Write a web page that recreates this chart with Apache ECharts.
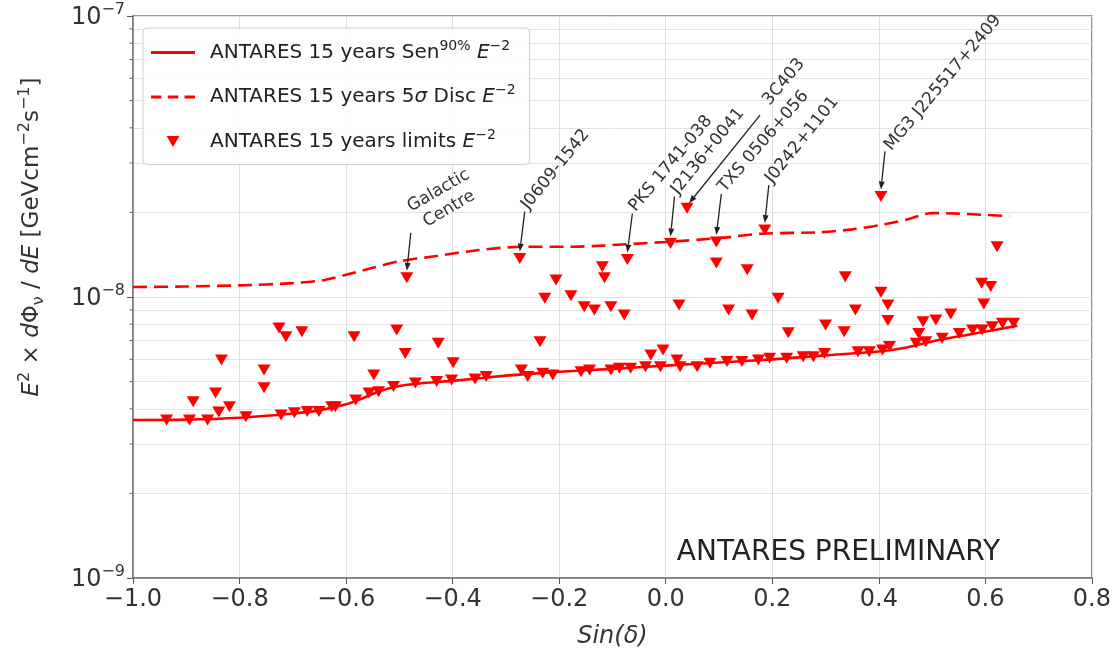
<!DOCTYPE html>
<html>
<head>
<meta charset="utf-8">
<title>ANTARES 15 years limits</title>
<script src="https://cdn.jsdelivr.net/npm/echarts@6/dist/echarts.min.js"></script>
<style>
  html, body { margin: 0; padding: 0; background: #fff; }
  #chart { width: 1114px; height: 657px; }
</style>
</head>
<body>
<div id="chart"></div>
<script>
// sensitivity curve (solid) and 5 sigma discovery curve (dashed)
var senX = [-1.0, -0.9, -0.8, -0.7, -0.65, -0.6, -0.57, -0.54, -0.5, -0.45, -0.4, -0.3, -0.2, -0.1, 0.0, 0.1, 0.2, 0.3, 0.4, 0.45, 0.5, 0.56, 0.62, 0.66];
var senY = [3.65e-9, 3.66e-9, 3.72e-9, 3.85e-9, 3.95e-9, 4.15e-9, 4.35e-9, 4.6e-9, 4.82e-9, 4.95e-9, 5.03e-9, 5.25e-9, 5.42e-9, 5.55e-9, 5.7e-9, 5.85e-9, 6.0e-9, 6.2e-9, 6.4e-9, 6.6e-9, 6.95e-9, 7.3e-9, 7.65e-9, 7.9e-9];

var discX = [-1.0, -0.9, -0.8, -0.7, -0.64, -0.6, -0.55, -0.5, -0.43, -0.35, -0.27, -0.18, -0.13, 0.0, 0.1, 0.18, 0.29, 0.35, 0.4, 0.45, 0.5, 0.55, 0.645];
var discY = [1.085e-8, 1.09e-8, 1.1e-8, 1.12e-8, 1.15e-8, 1.2e-8, 1.27e-8, 1.34e-8, 1.4e-8, 1.47e-8, 1.51e-8, 1.51e-8, 1.52e-8, 1.57e-8, 1.62e-8, 1.68e-8, 1.7e-8, 1.74e-8, 1.8e-8, 1.88e-8, 1.99e-8, 1.98e-8, 1.94e-8];

// per-source upper limits
var limX = [
  -0.937, -0.894, -0.887, -0.860, -0.845, -0.839, -0.834, -0.819, -0.788, -0.754, -0.754,
  -0.726, -0.713, -0.683, -0.722, -0.697, -0.673, -0.651, -0.627, -0.620, -0.585, -0.582,
  -0.557, -0.548, -0.539,
  -0.486, -0.505, -0.489, -0.427, -0.399, -0.511, -0.470, -0.430, -0.402, -0.358, -0.337,
  -0.274, -0.271, -0.259, -0.231, -0.212, -0.206, -0.227, -0.236, -0.178, -0.153, -0.134,
  -0.119, -0.115, -0.103, -0.078, -0.072, -0.159, -0.143, -0.103, -0.087, -0.066,
  0.040, 0.009, 0.095, 0.095, 0.153, 0.186, 0.025, 0.118, 0.162, 0.211, 0.230, 0.300, 0.335, 0.337,
  -0.028, -0.005, -0.038, -0.010, 0.021, 0.027, 0.059, 0.083, 0.115, 0.143, 0.174, 0.195, 0.227, 0.258, 0.277, 0.298,
  0.404, 0.622, 0.404, 0.417, 0.417, 0.356, 0.593, 0.610, 0.597, 0.483, 0.507, 0.535, 0.475,
  0.361, 0.382, 0.407, 0.420, 0.470, 0.488, 0.519, 0.551, 0.576, 0.594, 0.613, 0.632, 0.653
];
var limY = [
  3.65e-9, 3.65e-9, 4.24e-9, 3.65e-9, 4.55e-9, 3.90e-9, 5.97e-9, 4.07e-9, 3.75e-9, 5.50e-9, 4.75e-9,
  7.76e-9, 7.22e-9, 7.52e-9, 3.80e-9, 3.87e-9, 3.91e-9, 3.91e-9, 4.07e-9, 4.07e-9, 7.22e-9, 4.30e-9,
  4.55e-9, 5.28e-9, 4.60e-9,
  1.17e-8, 7.63e-9, 6.30e-9, 6.84e-9, 5.84e-9, 4.80e-9, 4.94e-9, 5.00e-9, 5.07e-9, 5.11e-9, 5.21e-9,
  1.37e-8, 5.50e-9, 5.21e-9, 5.35e-9, 5.28e-9, 1.15e-8, 9.89e-9, 6.93e-9, 1.01e-8, 9.24e-9, 8.99e-9,
  1.28e-8, 1.17e-8, 9.24e-9, 8.63e-9, 1.36e-8, 5.42e-9, 5.50e-9, 5.50e-9, 5.58e-9, 5.58e-9,
  2.07e-8, 1.55e-8, 1.57e-8, 1.32e-8, 1.25e-8, 1.73e-8, 9.37e-9, 8.99e-9, 8.63e-9, 9.89e-9, 7.46e-9, 7.95e-9, 7.52e-9, 1.18e-8,
  6.22e-9, 6.48e-9, 5.65e-9, 5.65e-9, 5.97e-9, 5.65e-9, 5.65e-9, 5.81e-9, 5.89e-9, 5.89e-9, 5.97e-9, 6.05e-9, 6.05e-9, 6.13e-9, 6.13e-9, 6.30e-9,
  2.28e-8, 1.51e-8, 1.04e-8, 9.37e-9, 8.24e-9, 8.99e-9, 1.12e-8, 1.09e-8, 9.44e-9, 8.17e-9, 8.28e-9, 8.70e-9, 7.42e-9,
  6.39e-9, 6.39e-9, 6.48e-9, 6.66e-9, 6.84e-9, 6.93e-9, 7.13e-9, 7.42e-9, 7.63e-9, 7.63e-9, 7.84e-9, 8.06e-9, 8.06e-9
];

// labelled sources
var noteNames = ['Galactic\nCentre', 'J0609-1542', 'PKS 1741-038', 'J2136+0041', '3C403', 'TXS 0506+056', 'J0242+1101', 'MG3 J225517+2409'];
var noteX = [-0.486, -0.274, -0.072, 0.009, 0.040, 0.095, 0.186, 0.404];
var noteY = [1.17e-8, 1.37e-8, 1.36e-8, 1.55e-8, 2.07e-8, 1.57e-8, 1.73e-8, 2.28e-8];

// minor grid values of the log axis
var minorY = [2e-9, 3e-9, 4e-9, 5e-9, 6e-9, 7e-9, 8e-9, 9e-9, 2e-8, 3e-8, 4e-8, 5e-8, 6e-8, 7e-8, 8e-8, 9e-8];
var xMin = -1.0, xMax = 0.8;

var FONT = "'DejaVu Sans', sans-serif";
var RED = '#ff0000';

// where each label sits relative to its arrow (pixels)
var noteLayout = [
  { tail: [4, -45], tip: [0, -7], text: [37, -33], rot: 30, align: 'center', va: 'middle' },
  { tail: [5, -47], tip: [0, -7], text: [0, -4], rot: 51, align: 'left', va: 'middle' },
  { tail: [5, -46], tip: [0, -7], text: [0, -4], rot: 50, align: 'left', va: 'middle' },
  { tail: [4, -47], tip: [0, -7], text: [0, -4], rot: 51, align: 'left', va: 'middle' },
  { tail: [73, -93], tip: [2, -5], text: [6, -12], rot: 50, align: 'left', va: 'middle' },
  { tail: [5, -48], tip: [0, -7], text: [0, -4], rot: 49, align: 'left', va: 'middle' },
  { tail: [4, -45], tip: [0, -7], text: [0, -4], rot: 51, align: 'left', va: 'middle' },
  { tail: [4, -45], tip: [0, -7], text: [3, -3], rot: 50, align: 'left', va: 'middle' }
];

function pairs(xs, ys) {
  return xs.map(function (x, i) { return [x, ys[i]]; });
}

var legendText = {
  sen: '{t|ANTARES 15 years Sen}{sup|90%}{t| }{it|E}{sup|−2}',
  disc: '{t|ANTARES 15 years 5}{it|σ}{t| Disc }{it|E}{sup|−2}',
  lim: '{t|ANTARES 15 years limits }{it|E}{sup|−2}'
};

var chart = echarts.init(document.getElementById('chart'));

var option = {
  animation: false,
  backgroundColor: '#fff',
  textStyle: { fontFamily: FONT },
  grid: {
    left: 133, right: 17, top: 16, bottom: 79,
    show: true, borderColor: '#7a7a7a', borderWidth: 1.5
  },
  legend: {
    data: [
      { name: 'sen', icon: 'path://M0,0h44v3H0z' },
      { name: 'disc', icon: 'path://M0,0h10v3H0zM16,0h10v3h-10zM32,0h10v3h-10z' },
      { name: 'lim', icon: 'path://M0,0L14,0L7,12Z' }
    ],
    orient: 'vertical',
    left: 143, top: 28,
    padding: [11, 14, 13, 8],
    itemGap: 21,
    itemWidth: 44,
    itemHeight: 11,
    backgroundColor: 'rgba(255,255,255,0.85)',
    borderColor: '#d0d0d0',
    borderWidth: 1,
    borderRadius: 4,
    formatter: function (name) { return legendText[name]; },
    textStyle: {
      padding: [0, 0, 0, 10],
      rich: {
        t: { fontSize: 20, lineHeight: 27, verticalAlign: 'middle', color: '#222', fontFamily: FONT },
        it: { fontSize: 20, lineHeight: 27, verticalAlign: 'middle', fontStyle: 'italic', color: '#222', fontFamily: FONT },
        sup: { fontSize: 14, lineHeight: 12, verticalAlign: 'top', color: '#222', fontFamily: FONT }
      }
    }
  },
  xAxis: {
    type: 'value',
    min: xMin, max: xMax, interval: 0.2,
    name: 'Sin(δ)',
    nameLocation: 'middle',
    nameGap: 47,
    nameTextStyle: { fontSize: 24, fontStyle: 'italic', color: '#333', fontFamily: FONT },
    axisLine: { show: true, onZero: false, lineStyle: { color: '#7a7a7a', width: 1.5 } },
    axisTick: { show: true, length: 6, lineStyle: { color: '#555' } },
    axisLabel: {
      fontSize: 24, color: '#333', margin: 10, fontFamily: FONT,
      formatter: function (v) { return (v < 0 ? '−' : '') + Math.abs(v).toFixed(1); }
    },
    splitLine: { show: true, lineStyle: { color: '#e0e0e0', width: 1 } }
  },
  yAxis: {
    type: 'log', logBase: 10,
    min: 1e-9, max: 1e-7,
    axisLine: { show: true, onZero: false, lineStyle: { color: '#7a7a7a', width: 1.5 } },
    axisTick: { show: true, length: 6, lineStyle: { color: '#555' } },
    axisLabel: {
      margin: 8, color: '#333',
      formatter: function (v) {
        var e = Math.round(Math.log10(v));
        return '{b|10}{sup|' + (e < 0 ? '−' + (-e) : e) + '}';
      },
      rich: {
        b: { fontSize: 24, lineHeight: 28, verticalAlign: 'bottom', color: '#333', fontFamily: FONT },
        sup: { fontSize: 16, lineHeight: 12, verticalAlign: 'top', color: '#333', fontFamily: FONT }
      }
    },
    splitLine: { show: true, lineStyle: { color: '#e0e0e0', width: 1 } }
  },
  series: [
    {
      // minor grid lines of the log axis
      name: 'minor', type: 'lines', coordinateSystem: 'cartesian2d',
      silent: true, z: 0, polyline: false,
      lineStyle: { color: '#e4e4e4', width: 1, opacity: 1 },
      data: minorY.map(function (v) { return { coords: [[xMin, v], [xMax, v]] }; })
    },
    {
      name: 'sen', type: 'line', data: pairs(senX, senY),
      showSymbol: false, symbol: 'none', smooth: 0.25, z: 3,
      lineStyle: { color: RED, width: 2.6 },
      itemStyle: { color: RED }
    },
    {
      name: 'disc', type: 'line', data: pairs(discX, discY),
      showSymbol: false, symbol: 'none', smooth: 0.25, z: 3,
      lineStyle: { color: RED, width: 2.6, type: [14, 7] },
      itemStyle: { color: RED }
    },
    {
      name: 'lim', type: 'scatter', data: pairs(limX, limY), z: 5,
      symbol: 'path://M0,0L14,0L7,12Z', symbolSize: [13, 11],
      itemStyle: { color: RED, opacity: 1 }
    }
  ]
};

chart.setOption(option);

function buildGraphics() {
  var g = [];
  noteNames.forEach(function (name, i) {
    var L = noteLayout[i];
    var p = chart.convertToPixel({ gridIndex: 0 }, [noteX[i], noteY[i]]);
    var tail = [p[0] + L.tail[0], p[1] + L.tail[1]];
    var tip = [p[0] + L.tip[0], p[1] + L.tip[1]];
    var ang = Math.atan2(tip[1] - tail[1], tip[0] - tail[0]);
    var hl = 8, hw = 3;
    var bx = tip[0] - hl * Math.cos(ang), by = tip[1] - hl * Math.sin(ang);
    g.push({
      type: 'line', z: 50, silent: true,
      shape: { x1: tail[0], y1: tail[1], x2: bx, y2: by },
      style: { stroke: '#222', lineWidth: 1.3 }
    });
    g.push({
      type: 'polygon', z: 50, silent: true,
      shape: { points: [[tip[0], tip[1]],
        [bx + hw * Math.sin(ang), by - hw * Math.cos(ang)],
        [bx - hw * Math.sin(ang), by + hw * Math.cos(ang)]] },
      style: { fill: '#222' }
    });
    var anchor = L.align === 'center' ? [p[0] + L.text[0], p[1] + L.tail[1] + L.text[1]] : [tail[0] + L.text[0], tail[1] + L.text[1]];
    g.push({
      type: 'text', z: 50, silent: true,
      x: anchor[0], y: anchor[1],
      rotation: L.rot * Math.PI / 180,
      style: {
        text: name, font: '17px ' + FONT, fill: '#333',
        align: L.align, verticalAlign: L.va, lineHeight: 21
      }
    });
  });

  // minor ticks on the log axis
  var x0 = chart.convertToPixel({ xAxisIndex: 0 }, xMin);
  minorY.forEach(function (v) {
    var y = chart.convertToPixel({ yAxisIndex: 0 }, v);
    g.push({
      type: 'line', silent: true, z: 10,
      shape: { x1: x0 - 3.5, y1: y, x2: x0, y2: y },
      style: { stroke: '#666', lineWidth: 1 }
    });
  });

  // y axis title
  g.push({
    type: 'text', x: 32, y: 237, rotation: Math.PI / 2, silent: true,
    style: {
      text: '{i|E}{sup|2}{n| × }{i|d}{n|Φ}{sub|ν}{n| / }{i|dE}{n| [GeVcm}{sup|−2}{n|s}{sup|−1}{n|]}',
      align: 'center', verticalAlign: 'middle', fill: '#333',
      rich: {
        n: { fontSize: 23, lineHeight: 30, verticalAlign: 'middle', fontFamily: FONT, fill: '#333' },
        i: { fontSize: 23, lineHeight: 30, verticalAlign: 'middle', fontStyle: 'italic', fontFamily: FONT, fill: '#333' },
        sup: { fontSize: 16, lineHeight: 14, verticalAlign: 'top', fontFamily: FONT, fill: '#333' },
        sub: { fontSize: 16, lineHeight: 12, verticalAlign: 'bottom', fontFamily: FONT, fill: '#333' }
      }
    }
  });

  // watermark
  g.push({
    type: 'text', x: 1000, y: 553, silent: true,
    style: { text: 'ANTARES PRELIMINARY', font: '28px ' + FONT, fill: '#222', align: 'right', verticalAlign: 'middle' }
  });
  return g;
}

chart.setOption({ graphic: buildGraphics() });
</script>
</body>
</html>
